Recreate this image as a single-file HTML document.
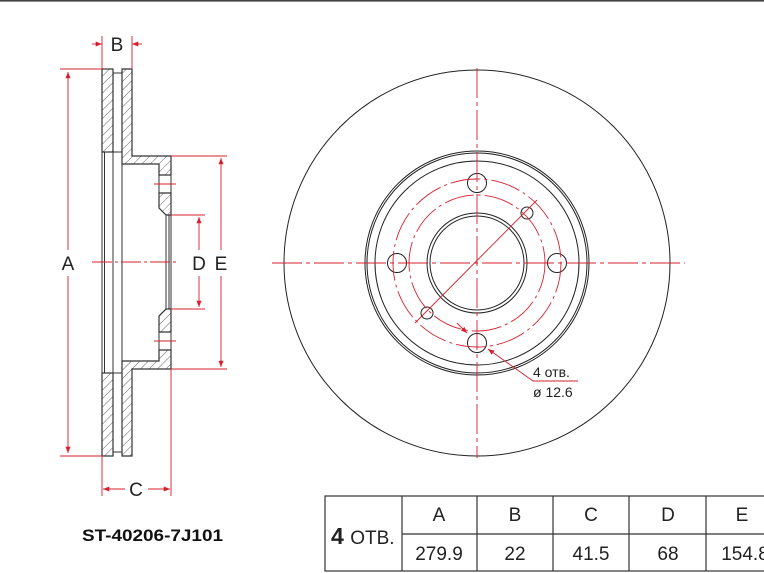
<!DOCTYPE html>
<html><head><meta charset="utf-8"><style>
html,body{margin:0;padding:0;background:#fff;}
svg{display:block;font-family:"Liberation Sans",sans-serif;}
</style></head><body>
<svg width="764" height="573" viewBox="0 0 764 573" xmlns="http://www.w3.org/2000/svg">
<defs>
<pattern id="h" patternUnits="userSpaceOnUse" width="6" height="6" patternTransform="rotate(45)">
<rect width="6" height="6" fill="#fff"/><line x1="0" y1="0" x2="0" y2="6" stroke="#555" stroke-width="0.9"/>
</pattern>
<marker id="ar" viewBox="0 0 10 10" refX="10" refY="5" markerWidth="7" markerHeight="7" orient="auto-start-reverse"><path d="M0,1 L10,5 L0,9 z" fill="#d6202e"/></marker>
</defs>
<line x1="0" y1="0.8" x2="764" y2="0.8" stroke="#444" stroke-width="1.6"/>
<g stroke="#333" stroke-width="1.2" fill="url(#h)">
<rect x="102" y="69" width="11" height="83"/>
<rect x="102" y="373" width="11" height="83"/>
<path d="M122,69 H132 V156 H171 V175 H159 V164 H122 Z"/>
<path d="M122,456 H132 V369 H171 V350 H159 V361 H122 Z"/>
<path d="M159,193 H171 V215 H166 L159,208 Z"/>
<path d="M159,332 H171 V309 H166 L159,316 Z"/>
</g>
<g stroke="#333" stroke-width="1" fill="none">
<line x1="102" y1="152" x2="102" y2="373"/><line x1="104.5" y1="152" x2="104.5" y2="373"/>
<line x1="113" y1="152" x2="113" y2="373"/><line x1="122" y1="164" x2="122" y2="361"/>
<line x1="113" y1="73" x2="122" y2="73"/><line x1="113" y1="452" x2="122" y2="452"/>
<line x1="113" y1="152" x2="122" y2="152"/><line x1="113" y1="373" x2="122" y2="373"/>
<line x1="159" y1="175" x2="159" y2="193"/><line x1="171" y1="175" x2="171" y2="193"/>
<line x1="159" y1="332" x2="159" y2="350"/><line x1="171" y1="332" x2="171" y2="350"/>
<line x1="166" y1="215" x2="166" y2="309"/><line x1="169" y1="215" x2="169" y2="309"/><line x1="171" y1="215" x2="171" y2="309"/>
</g>
<g stroke="#d6202e" stroke-width="0.9" fill="none">
<line x1="60" y1="69" x2="102" y2="69"/><line x1="60" y1="456" x2="102" y2="456"/>
<line x1="68" y1="72" x2="68" y2="250" marker-start="url(#ar)"/><line x1="68" y1="276" x2="68" y2="453" marker-end="url(#ar)"/>
<line x1="102" y1="36" x2="102" y2="69"/><line x1="132" y1="36" x2="132" y2="69"/>
<line x1="92" y1="44" x2="102" y2="44" marker-end="url(#ar)"/><line x1="142" y1="44" x2="132" y2="44" marker-end="url(#ar)"/>
<line x1="102" y1="456" x2="102" y2="496"/><line x1="171" y1="369" x2="171" y2="496"/>
<line x1="125" y1="489" x2="103" y2="489" marker-end="url(#ar)"/><line x1="148" y1="489" x2="170" y2="489" marker-end="url(#ar)"/>
<line x1="171" y1="156" x2="227" y2="156"/><line x1="171" y1="369" x2="227" y2="369"/>
<line x1="221" y1="158" x2="221" y2="250" marker-start="url(#ar)"/><line x1="221" y1="276" x2="221" y2="367" marker-end="url(#ar)"/>
<line x1="171" y1="215" x2="205" y2="215"/><line x1="171" y1="309" x2="205" y2="309"/>
<line x1="199" y1="217" x2="199" y2="250" marker-start="url(#ar)"/><line x1="199" y1="276" x2="199" y2="307" marker-end="url(#ar)"/>
<line x1="92" y1="262" x2="178" y2="262" stroke-dasharray="20,3,3,3"/>
<line x1="154" y1="184" x2="176" y2="184"/><line x1="154" y1="341" x2="176" y2="341"/>
</g>
<g font-size="19" fill="#222" text-anchor="middle">
<text x="68" y="270">A</text><text x="117" y="51">B</text><text x="136" y="496">C</text>
<text x="199" y="270">D</text><text x="221" y="270">E</text>
</g>
<g stroke="#222" fill="none" stroke-width="1">
<circle cx="477" cy="263" r="193"/>
<circle cx="477" cy="263" r="112"/><circle cx="477" cy="263" r="110"/>
<circle cx="477" cy="263" r="102"/>
<circle cx="477" cy="263" r="50"/><circle cx="477" cy="263" r="47"/>
<circle cx="477" cy="183" r="9.5"/><circle cx="477" cy="343" r="9.5"/>
<circle cx="397" cy="263" r="9.5"/><circle cx="557" cy="263" r="9.5"/>
<circle cx="527" cy="213" r="6"/><circle cx="427" cy="313" r="6"/>
</g>
<g stroke="#d6202e" stroke-width="0.9" fill="none">
<circle cx="477" cy="263" r="84" stroke-dasharray="30,4,3,4"/>
<circle cx="477" cy="263" r="68" stroke-dasharray="30,4,3,4"/>
<line x1="272" y1="263" x2="685" y2="263" stroke-dasharray="30,4,4,4"/>
<line x1="477" y1="68" x2="477" y2="458" stroke-dasharray="30,4,4,4"/>
<line x1="537" y1="200" x2="415" y2="323"/>
<line x1="457" y1="323" x2="467" y2="333" marker-end="url(#ar)"/>
<line x1="533" y1="381" x2="488" y2="349" marker-end="url(#ar)"/>
<line x1="533" y1="381" x2="578" y2="381"/>
</g>
<text x="533" y="377" font-size="14" fill="#222">4 отв.</text>
<text x="533" y="397" font-size="14" fill="#222">ø 12.6</text>
<text x="82" y="541" font-size="17" font-weight="bold" fill="#111" textLength="141" lengthAdjust="spacingAndGlyphs">ST-40206-7J101</text>
<g stroke="#333" stroke-width="1.2" fill="none">
<rect x="325" y="496" width="445" height="75"/>
<line x1="402" y1="496" x2="402" y2="571"/><line x1="477" y1="496" x2="477" y2="571"/>
<line x1="553" y1="496" x2="553" y2="571"/><line x1="629" y1="496" x2="629" y2="571"/>
<line x1="706" y1="496" x2="706" y2="571"/><line x1="402" y1="534" x2="770" y2="534"/>
</g>
<text x="331" y="544" font-size="23" font-weight="bold" fill="#222">4 <tspan font-size="19" font-weight="normal">ОТВ.</tspan></text>
<g font-size="19" fill="#222" text-anchor="middle">
<text x="439" y="521">A</text><text x="515" y="521">B</text><text x="591" y="521">C</text><text x="668" y="521">D</text><text x="742" y="521">E</text>
<text x="439" y="560">279.9</text><text x="515" y="560">22</text><text x="591" y="560">41.5</text><text x="668" y="560">68</text><text x="745" y="560">154.8</text>
</g>
</svg>
</body></html>
